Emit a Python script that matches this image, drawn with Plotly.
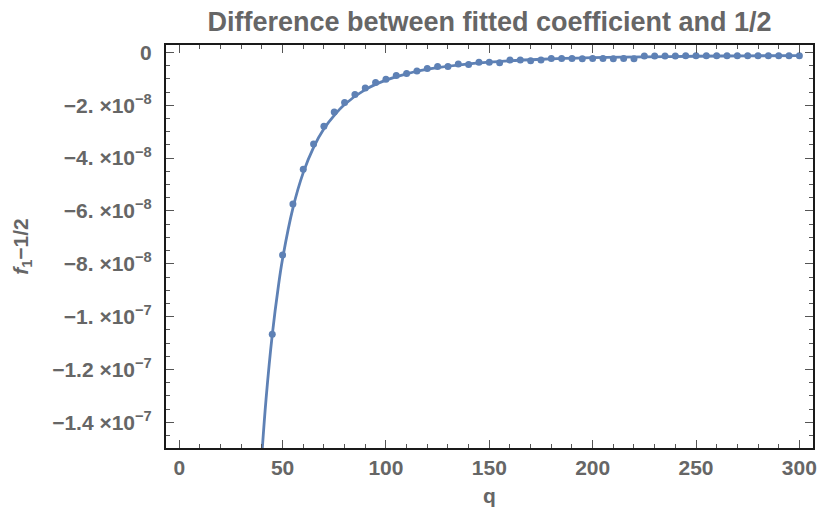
import plotly.graph_objects as go

# ---- data ----
q_points = [45, 50, 55, 60, 65, 70, 75, 80, 85, 90, 95, 100, 105, 110, 115, 120,
            125, 130, 135, 140, 145, 150, 155, 160, 165, 170, 175, 180, 185, 190,
            195, 200, 205, 210, 215, 220, 225, 230, 235, 240, 245, 250, 255, 260,
            265, 270, 275, 280, 285, 290, 295, 300]
diff_points_e9 = [-106.7, -76.7, -57.4, -44.2, -34.7, -27.9, -22.6, -19.0, -15.9,
                  -13.5, -11.4, -10.2, -8.7, -8.0, -7.0, -6.1, -5.3, -5.3, -4.4,
                  -4.6, -3.7, -3.7, -3.9, -2.9, -2.9, -3.2, -2.9, -2.3, -2.3,
                  -2.3, -2.4, -2.3, -2.3, -2.4, -2.3, -2.4, -1.4, -1.4, -1.4,
                  -1.4, -1.3, -1.3, -1.3, -1.3, -1.3, -1.3, -1.3, -1.3, -1.3,
                  -1.3, -1.3, -1.3]

q_fit = [40, 42, 45, 48, 50, 55, 60, 65, 70, 75, 80, 90, 100, 110, 125, 150,
         175, 200, 225, 250, 275, 300]
diff_fit_e9 = [-152.0, -131.2, -106.9, -88.3, -78.1, -58.9, -45.5, -35.9, -28.9,
               -23.8, -19.7, -14.1, -10.5, -8.1, -5.8, -3.7, -2.6, -2.0, -1.7,
               -1.45, -1.3, -1.2]

x_ticks = [0, 50, 100, 150, 200, 250, 300]
y_tick_vals_e8 = [0, -2, -4, -6, -8, -10, -12, -14]
y_tick_text = ["0"] + [m + " ×10<sup>" + e + "</sup>" for m, e in [
    ("−2.", "−8"), ("−4.", "−8"), ("−6.", "−8"), ("−8.", "−8"),
    ("−1.", "−7"), ("−1.2", "−7"), ("−1.4", "−7")]]

title_text = "Difference between fitted coefficient and 1/2"
x_title = "q"
y_title = "<i>f</i><sub>1</sub>−1/2"

BLUE = "#5E81B5"
GRAY = "#666666"
FONT = "Liberation Sans"

fig = go.Figure()
fig.add_trace(go.Scatter(
    x=q_fit, y=[v * 1e-9 for v in diff_fit_e9], mode="lines",
    line=dict(color=BLUE, width=2.8, shape="spline", smoothing=1.0),
    hoverinfo="skip", showlegend=False))
fig.add_trace(go.Scatter(
    x=q_points, y=[v * 1e-9 for v in diff_points_e9], mode="markers",
    marker=dict(color=BLUE, size=7, line=dict(width=0)),
    showlegend=False))

axis_common = dict(
    showgrid=False, zeroline=False, showline=True, linecolor="#1a1a1a",
    linewidth=2, mirror="allticks", ticks="inside", tickcolor="#555555",
    tickwidth=1.3, ticklen=8,
    tickfont=dict(family=FONT, size=21, color=GRAY, weight="bold"),
)

fig.update_layout(
    width=821, height=511,
    margin=dict(l=166, r=4, t=45, b=63),
    paper_bgcolor="white", plot_bgcolor="white",
    title=dict(text="<b>" + title_text + "</b>", x=0.5, xref="paper",
               y=0.957, yanchor="middle",
               font=dict(family=FONT, size=27, color=GRAY)),
    xaxis=dict(
        range=[-6.4, 306.6], tickvals=x_ticks,
        ticktext=[str(t) for t in x_ticks],
        minor=dict(dtick=10, tick0=0, ticklen=4, ticks="inside",
                   tickcolor="#555555", tickwidth=1.2),
        title=dict(text="<b>" + x_title + "</b>", standoff=10,
                   font=dict(family=FONT, size=21, color=GRAY)),
        **axis_common),
    yaxis=dict(
        range=[-1.497e-7, 2.8e-9],
        tickvals=[v * 1e-8 for v in y_tick_vals_e8], ticktext=y_tick_text,
        ticklabelstandoff=8,
        minor=dict(dtick=5e-9, tick0=0, ticklen=4, ticks="inside",
                   tickcolor="#555555", tickwidth=1.2),
        title=dict(text="<b>" + y_title + "</b>", standoff=18,
                   font=dict(family=FONT, size=21, color=GRAY)),
        **axis_common),
)

fig.write_html("out.html")
